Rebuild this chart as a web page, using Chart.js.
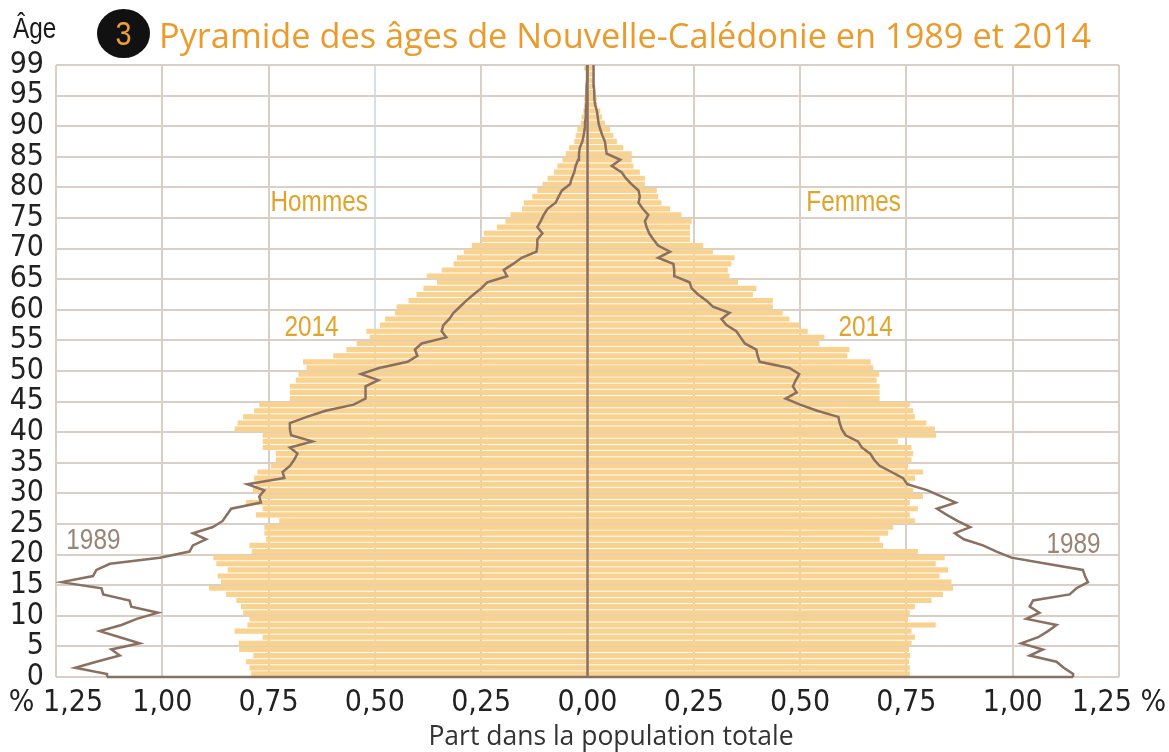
<!DOCTYPE html>
<html><head><meta charset="utf-8">
<script src="https://cdn.jsdelivr.net/npm/chart.js@4.4.1/dist/chart.umd.min.js"></script>
<style>
html,body{margin:0;padding:0;background:#fff;}
#wrap{position:relative;width:1169px;height:752px;overflow:hidden;background:#fff;}
canvas{position:absolute;left:0;top:0;}
.lbl{position:absolute;white-space:nowrap;}
</style></head><body>
<div id="wrap">
<canvas id="c" width="1169" height="752"></canvas>
<div class="lbl" style="left:13px;top:13px;font:29px/30px 'Liberation Sans', Arial, sans-serif;color:#1a1a1a;transform:scaleX(0.84);transform-origin:0 0;">Âge</div>
<div style="position:absolute;left:97px;top:9px;width:53px;height:49px;border-radius:50%;background:#111;"></div>
<div class="lbl" style="left:97px;top:9px;width:53px;text-align:center;font:34px/49px 'Liberation Sans', Arial, sans-serif;color:#f0a030;transform:scaleX(0.85);transform-origin:26px 0;">3</div>
<div class="lbl" style="left:159px;top:15px;font:34.3px/40px 'Open Sans', sans-serif;color:#eb9b2b;">Pyramide des âges de Nouvelle-Calédonie en 1989 et 2014</div>
<div class="lbl" style="left:0;width:1222px;text-align:center;top:720px;font:26.5px/30px 'Open Sans', sans-serif;color:#333;">Part dans la population totale</div>
</div>
<script>
// ---- data ----
const ages = [0,1,2,3,4,5,6,7,8,9,10,11,12,13,14,15,16,17,18,19,20,21,22,23,24,25,26,27,28,29,30,31,32,33,34,35,36,37,38,39,40,41,42,43,44,45,46,47,48,49,50,51,52,53,54,55,56,57,58,59,60,61,62,63,64,65,66,67,68,69,70,71,72,73,74,75,76,77,78,79,80,81,82,83,84,85,86,87,88,89,90,91,92,93,94,95,96,97,98,99];
const hommes2014 = [0.791,0.795,0.803,0.786,0.819,0.82,0.764,0.83,0.80,0.795,
0.81,0.815,0.826,0.85,0.89,0.862,0.87,0.846,0.873,0.88,
0.79,0.795,0.756,0.76,0.76,0.725,0.78,0.764,0.803,0.772,
0.787,0.78,0.784,0.776,0.745,0.733,0.733,0.764,0.764,0.764,
0.83,0.823,0.81,0.784,0.772,0.70,0.70,0.70,0.686,0.68,
0.661,0.669,0.598,0.567,0.543,0.512,0.52,0.488,0.476,0.453,
0.449,0.421,0.402,0.386,0.354,0.378,0.343,0.315,0.307,0.291,
0.272,0.248,0.244,0.213,0.193,0.181,0.154,0.15,0.13,0.118,
0.106,0.094,0.079,0.071,0.059,0.051,0.043,0.031,0.028,0.024,
0.016,0.014,0.01,0.008,0.008,0.004,0.003,0.003,0.002,0.008];
const femmes2014 = [0.758,0.758,0.756,0.759,0.756,0.762,0.77,0.762,0.819,0.754,
0.758,0.77,0.809,0.836,0.86,0.856,0.828,0.848,0.819,0.84,
0.777,0.695,0.687,0.707,0.719,0.77,0.758,0.777,0.758,0.789,
0.766,0.758,0.77,0.789,0.754,0.762,0.766,0.762,0.73,0.82,
0.817,0.797,0.77,0.766,0.758,0.687,0.687,0.687,0.68,0.686,
0.672,0.666,0.611,0.616,0.545,0.557,0.518,0.498,0.475,0.459,
0.436,0.436,0.389,0.397,0.354,0.334,0.33,0.338,0.346,0.295,
0.272,0.241,0.241,0.241,0.245,0.221,0.194,0.174,0.166,0.163,
0.135,0.135,0.123,0.108,0.104,0.104,0.084,0.069,0.061,0.053,
0.041,0.034,0.03,0.023,0.022,0.018,0.016,0.014,0.014,0.014];
const hommes1989 = [1.13,1.205,1.155,1.10,1.12,1.053,1.10,1.147,1.096,1.06,
1.01,1.073,1.077,1.139,1.143,1.237,1.163,1.155,1.123,1.006,
0.936,0.928,0.897,0.928,0.881,0.858,0.848,0.838,0.768,0.772,
0.76,0.80,0.713,0.717,0.70,0.69,0.682,0.70,0.647,0.697,
0.70,0.70,0.66,0.616,0.55,0.522,0.522,0.522,0.492,0.533,
0.49,0.423,0.40,0.406,0.39,0.332,0.343,0.339,0.325,0.315,
0.30,0.285,0.268,0.25,0.236,0.189,0.197,0.175,0.155,0.12,
0.118,0.118,0.106,0.118,0.11,0.103,0.094,0.075,0.068,0.06,
0.041,0.037,0.031,0.028,0.022,0.02,0.018,0.012,0.009,0.007,
0.006,0.004,0.004,0.003,0.003,0.002,0.002,0.001,0.001,0.001];
const femmes1989 = [1.142,1.12,1.103,1.04,1.071,1.02,1.06,1.083,1.103,1.032,
1.063,1.04,1.048,1.134,1.15,1.177,1.17,1.165,1.08,0.997,
0.962,0.93,0.885,0.864,0.90,0.87,0.845,0.822,0.866,0.832,
0.80,0.752,0.742,0.715,0.687,0.674,0.665,0.645,0.636,0.607,
0.598,0.593,0.59,0.54,0.50,0.466,0.492,0.483,0.49,0.498,
0.475,0.405,0.40,0.397,0.37,0.36,0.35,0.327,0.315,0.334,
0.295,0.28,0.26,0.245,0.24,0.205,0.204,0.202,0.166,0.194,
0.166,0.155,0.145,0.139,0.135,0.143,0.13,0.12,0.123,0.12,
0.104,0.09,0.08,0.057,0.077,0.045,0.043,0.041,0.035,0.03,
0.026,0.024,0.022,0.018,0.016,0.016,0.015,0.015,0.014,0.014];
const ageTicks = [0,5,10,15,20,25,30,35,40,45,50,55,60,65,70,75,80,85,90,95,100];
const ageTickLabels = ['0','5','10','15','20','25','30','35','40','45','50','55','60','65','70','75','80','85','90','95','99'];
const xTicks = [-1.25,-1,-0.75,-0.5,-0.25,0,0.25,0.5,0.75,1,1.25];
const xTickLabels = ['% 1,25','1,00','0,75','0,50','0,25','0,00','0,25','0,50','0,75','1,00','1,25 %'];

// ---- styles ----
const BAR = '#f9d28f', LINE = '#8a7060', GRID = '#dacfc6', GOLD = '#e0a42a', BROWN = '#9a8475';
const TICKFONT = {family: "'Liberation Sans Narrow', 'DejaVu Sans Condensed', sans-serif", size: 30};

const barPts = (vals, s) => ages.map((a, i) => ({x: s * vals[i], y: a + 0.5}));
const linePts = (vals, s) => {
  const p = [{x: s * vals[0], y: 0}];
  ages.forEach((a, i) => p.push({x: s * vals[i], y: a + 0.5}));
  p.push({x: s * vals[vals.length - 1], y: 100});
  return p;
};

const notes = [
  {t: 'Hommes', x: -0.631, y: 77.5, c: GOLD},
  {t: 'Femmes', x: 0.626, y: 77.5, c: GOLD},
  {t: '2014', x: -0.649, y: 57.1, c: GOLD},
  {t: '2014', x: 0.654, y: 57.1, c: GOLD},
  {t: '1989', x: -1.162, y: 22.2, c: BROWN},
  {t: '1989', x: 1.143, y: 21.6, c: BROWN}
];

const overlay = {
  id: 'overlay',
  afterDatasetsDraw(chart) {
    const {ctx} = chart, x = chart.scales.x, y = chart.scales.y;
    ctx.save();
    ctx.strokeStyle = LINE; ctx.lineWidth = 2.5; ctx.lineCap = 'butt';
    ctx.beginPath();
    ctx.moveTo(x.getPixelForValue(-hommes1989[0]), y.getPixelForValue(0));
    ctx.lineTo(x.getPixelForValue(femmes1989[0]), y.getPixelForValue(0));
    ctx.moveTo(x.getPixelForValue(0), y.getPixelForValue(0));
    ctx.lineTo(x.getPixelForValue(0), y.getPixelForValue(100));
    ctx.stroke();
    ctx.font = "29px 'Liberation Sans', Arial, sans-serif";
    ctx.textAlign = 'center'; ctx.textBaseline = 'middle';
    notes.forEach(n => {
      ctx.save();
      ctx.translate(x.getPixelForValue(n.x), y.getPixelForValue(n.y));
      ctx.scale(0.84, 1);
      ctx.fillStyle = n.c;
      ctx.fillText(n.t, 0, 0);
      ctx.restore();
    });
    ctx.restore();
  }
};

new Chart(document.getElementById('c'), {
  data: {
    datasets: [
      {type: 'bar', label: 'Hommes 2014', data: barPts(hommes2014, -1), backgroundColor: BAR, grouped: false, barPercentage: 0.84, categoryPercentage: 1, order: 2},
      {type: 'bar', label: 'Femmes 2014', data: barPts(femmes2014, 1), backgroundColor: BAR, grouped: false, barPercentage: 0.84, categoryPercentage: 1, order: 2},
      {type: 'line', label: 'Hommes 1989', data: linePts(hommes1989, -1), borderColor: LINE, borderWidth: 2.5, pointRadius: 0, tension: 0, fill: false, order: 1},
      {type: 'line', label: 'Femmes 1989', data: linePts(femmes1989, 1), borderColor: LINE, borderWidth: 2.5, pointRadius: 0, tension: 0, fill: false, order: 1}
    ]
  },
  options: {
    indexAxis: 'y',
    responsive: false,
    animation: false,
    devicePixelRatio: 1,
    layout: {padding: {top: 65, right: 50, left: 0, bottom: 0}},
    plugins: {legend: {display: false}, tooltip: {enabled: false}},
    scales: {
      x: {
        type: 'linear', min: -1.25, max: 1.25, offset: false,
        afterBuildTicks: s => { s.ticks = xTicks.map(v => ({value: v})); },
        afterFit: s => { s.height = 75; s.paddingLeft = 40; s.paddingRight = 40; },
        ticks: {callback: (v, i) => xTickLabels[i], font: TICKFONT, color: '#222', padding: 8, maxRotation: 0, autoSkip: false},
        grid: {color: c => (c.tick && c.tick.value === -0.5) ? '#d2e1ee' : GRID, lineWidth: 2, drawTicks: false, offset: false},
        border: {display: false}
      },
      y: {
        type: 'linear', min: 0, max: 100, offset: false,
        afterBuildTicks: s => { s.ticks = ageTicks.map(v => ({value: v})); },
        afterFit: s => { s.width = 56; },
        ticks: {callback: (v, i) => ageTickLabels[i], font: TICKFONT, color: '#222', padding: 12, autoSkip: false},
        grid: {color: GRID, lineWidth: 2, drawTicks: false, offset: false},
        border: {display: false}
      }
    }
  },
  plugins: [overlay]
});
</script>
</body></html>
